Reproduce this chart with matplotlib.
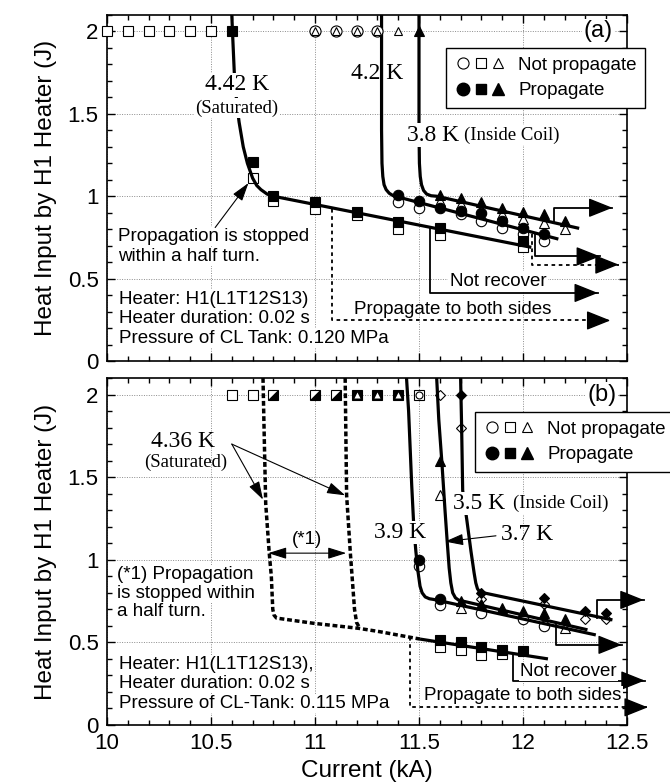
import matplotlib.pyplot as plt
from matplotlib.legend_handler import HandlerTuple
from matplotlib.lines import Line2D
from matplotlib.ticker import MultipleLocator

plt.rcParams['font.family'] = ['Liberation Sans', 'DejaVu Sans']
SERIF = 'Liberation Serif'

# ---------------- (a) CL tank 0.120 MPa ----------------
# markers on the J = 2 row
a_top_y = 2.0
a_top_open_sq_x = [10.0, 10.1, 10.2, 10.3, 10.4, 10.5]
a_top_fill_sq_x = [10.6]
a_top_open_ci_x = [11.0, 11.1, 11.2, 11.3]
a_top_open_tr_x = [11.0, 11.1, 11.2, 11.3, 11.4]
a_top_fill_tr_x = [11.5]

# 4.42 K (squares)
a_sq_x = [10.7, 10.8, 11.0, 11.2, 11.4, 11.6, 12.0]
a_sq_fill_y = [1.21, 1.00, 0.965, 0.905, 0.845, 0.805, 0.73]
a_sq_open_y = [1.11, 0.97, 0.925, 0.885, 0.80, 0.765, 0.69]

# 4.2 K (circles)
a_ci_fill_x = [11.4, 11.5, 11.6, 11.7, 11.8, 11.9, 12.0, 12.1]
a_ci_fill_y = [1.01, 0.97, 0.93, 0.91, 0.90, 0.85, 0.81, 0.77]
a_ci_open_x = [11.4, 11.5, 11.7, 11.8, 11.9, 12.0, 12.1]
a_ci_open_y = [0.965, 0.93, 0.89, 0.85, 0.81, 0.77, 0.73]

# 3.8 K (triangles)
a_tr_x = [11.6, 11.7, 11.8, 11.9, 12.0, 12.1, 12.2]
a_tr_fill_y = [1.01, 0.99, 0.965, 0.93, 0.905, 0.89, 0.85]
a_tr_open_y = [0.97, 0.95, 0.925, 0.89, 0.86, 0.84, 0.80]

# boundary curves
a_442_x = [10.600, 10.605, 10.612, 10.625, 10.635, 10.655, 10.675, 10.70, 10.72, 10.74, 10.77, 10.80, 12.04]
a_442_y = [2.10, 1.95, 1.75, 1.55, 1.45, 1.30, 1.20, 1.11, 1.065, 1.04, 1.013, 1.00, 0.69]
a_42_x = [11.32, 11.32, 11.322, 11.326, 11.332, 11.342, 11.357, 11.375, 11.40, 12.17]
a_42_y = [2.10, 1.40, 1.20, 1.12, 1.07, 1.04, 1.018, 1.004, 0.995, 0.74]
a_38_x = [11.50, 11.50, 11.502, 11.506, 11.512, 11.522, 11.537, 11.558, 11.585, 12.27]
a_38_y = [2.10, 1.40, 1.20, 1.12, 1.07, 1.035, 1.013, 1.003, 1.00, 0.805]

# ---------------- (b) CL tank 0.115 MPa ----------------
b_top_y = 2.0
b_top_open_sq_x = [10.6, 10.7]
b_top_half_sq_x = [10.8, 11.0, 11.1]
b_top_sq_tr_x = [11.2, 11.3, 11.4]
b_top_sq_ci_x = [11.5]
b_top_open_di_x = [11.6]
b_top_fill_di_x = [11.7]

# 4.36 K (squares)
b_sq_fill_x = [11.6, 11.7, 11.8, 11.9, 12.0]
b_sq_fill_y = [0.515, 0.50, 0.475, 0.455, 0.45]
b_sq_open_x = [11.6, 11.7, 11.8, 11.9]
b_sq_open_y = [0.475, 0.455, 0.425, 0.43]

# 3.9 K (circles)
b_ci_fill_x = [11.5, 11.6]
b_ci_fill_y = [1.0, 0.765]
b_ci_open_x = [11.5, 11.6, 11.8, 12.0, 12.1]
b_ci_open_y = [0.96, 0.725, 0.68, 0.64, 0.60]

# 3.7 K (triangles)
b_tr_fill_x = [11.6, 11.7, 11.8, 11.9, 12.0, 12.1, 12.2]
b_tr_fill_y = [1.595, 0.75, 0.73, 0.71, 0.69, 0.675, 0.64]
b_tr_open_x = [11.6, 11.7, 12.2]
b_tr_open_y = [1.39, 0.71, 0.59]

# 3.5 K (diamonds)
b_di_fill_x = [11.8, 12.1, 12.3, 12.4]
b_di_fill_y = [0.80, 0.77, 0.69, 0.68]
b_di_open_x = [11.7, 11.8, 12.1, 12.3, 12.4]
b_di_open_y = [1.80, 0.76, 0.73, 0.64, 0.64]

# boundary curves
b_436a_x = [10.75, 10.755, 10.763, 10.78, 10.79, 10.797, 10.803, 10.815, 10.99, 11.21, 11.31, 11.505]
b_436a_y = [2.10, 1.80, 1.34, 1.04, 0.90, 0.70, 0.665, 0.647, 0.616, 0.585, 0.565, 0.52]
b_436b_x = [11.145, 11.152, 11.17, 11.19, 11.20, 11.215]
b_436b_y = [2.10, 1.39, 1.04, 0.70, 0.62, 0.587]
b_436_x = [11.505, 12.12]
b_436_y = [0.52, 0.40]
b_39_x = [11.44, 11.45, 11.465, 11.475, 11.485, 11.495, 11.505, 11.515, 11.53, 11.55, 11.57, 12.35]
b_39_y = [2.10, 1.90, 1.45, 1.20, 1.05, 0.93, 0.84, 0.80, 0.775, 0.764, 0.76, 0.545]
b_37_x = [11.585, 11.595, 11.61, 11.625, 11.635, 11.645, 11.653, 11.662, 11.675, 11.69, 11.71, 12.31]
b_37_y = [2.10, 1.85, 1.59, 1.30, 1.12, 0.95, 0.86, 0.80, 0.77, 0.756, 0.75, 0.576]
b_35_x = [11.70, 11.705, 11.71, 11.73, 11.75, 11.765, 11.773, 11.781, 11.79, 11.81, 12.43]
b_35_y = [2.10, 1.80, 1.42, 1.24, 1.05, 0.92, 0.86, 0.825, 0.808, 0.80, 0.636]

x_ticks = [10, 10.5, 11, 11.5, 12, 12.5]
x_labels = ['10', '10.5', '11', '11.5', '12', '12.5']
y_ticks = [0, 0.5, 1, 1.5, 2]
y_labels = ['0', '0.5', '1', '1.5', '2']

HALF_SQ = [(-1, -1), (1, -1), (1, 1), (-1, -1)]
WHITE = dict(facecolor='white', edgecolor='none', pad=1)
DOTTED = (0, (2, 2))


def style_axes(ax, show_xlabels):
    ax.set_xlim(10, 12.5)
    ax.set_ylim(0, 2.1)
    ax.set_xticks(x_ticks, x_labels if show_xlabels else [])
    ax.set_yticks(y_ticks, y_labels)
    ax.xaxis.set_minor_locator(MultipleLocator(0.1))
    ax.yaxis.set_minor_locator(MultipleLocator(0.1))
    ax.tick_params(which='both', direction='in', top=True, right=True,
                   labelsize=16, width=1)
    ax.tick_params(which='major', length=6, pad=6)
    ax.tick_params(which='minor', length=3.5)
    ax.grid(True, which='major', color='0.55', ls=(0, (1, 1.5)), lw=0.7)
    ax.set_axisbelow(True)
    for s in ax.spines.values():
        s.set_linewidth(1.2)
    ax.set_ylabel('Heat Input by H1 Heater (J)', fontsize=17.5, labelpad=8)


def pts(ax, x, y, marker, filled, ms=7, z=4, **kw):
    ax.plot(x, y, ls='none', marker=marker, ms=ms,
            mfc='k' if filled else 'white', mec='k', mew=0.8,
            clip_on=False, zorder=z, **kw)


def curve(ax, x, y, ls='-', lw=2.3):
    ax.plot(x, y, color='k', lw=lw, ls=ls, zorder=3, solid_capstyle='butt')


def box_arrow(ax, xs, ys, ls='-'):
    ax.plot(xs, ys, color='k', lw=1.3, ls=ls, clip_on=False, zorder=3)
    ax.annotate('', xy=(xs[-1], ys[-1]), xytext=(xs[-1] - 0.02, ys[-1]),
                arrowprops=dict(arrowstyle='-|>,head_length=0.75,head_width=0.3',
                                color='k', lw=1.0, shrinkA=0, shrinkB=0,
                                mutation_scale=20),
                annotation_clip=False, zorder=3)


def thin_arrow(ax, start, end, style='-|>'):
    ax.annotate('', xy=end, xytext=start,
                arrowprops=dict(arrowstyle=style + ',head_length=0.8,head_width=0.25',
                                color='k', lw=0.8, shrinkA=0, shrinkB=0,
                                mutation_scale=14),
                annotation_clip=False, zorder=5)


def note(ax, x, ys, lines):
    """Left-aligned block of text, one line per entry, each on a white patch."""
    for y, line in zip(ys, lines):
        ax.text(x, y, line, fontsize=13.5, ha='left', va='center',
                bbox=WHITE, zorder=5)


def temp_label(ax, x, y, main, sub, ha='center', sub_dx=None, sub_dy=0.0,
               box=True):
    kw = dict(bbox=WHITE) if box else {}
    ax.text(x, y, main, family=SERIF, fontsize=17, ha=ha, va='center',
            zorder=5 if box else 2, **kw)
    if sub:
        sx = x if sub_dx is None else x + sub_dx
        ax.text(sx, y + sub_dy, sub, family=SERIF, fontsize=13.5, ha=ha,
                va='center', zorder=5, **kw)


def legend(ax, anchor):
    oc = Line2D([], [], ls='none', marker='o', ms=8, mfc='white', mec='k', mew=0.8)
    os_ = Line2D([], [], ls='none', marker='s', ms=7, mfc='white', mec='k', mew=0.8)
    ot = Line2D([], [], ls='none', marker='^', ms=6.5, mfc='white', mec='k', mew=0.8)
    fc = Line2D([], [], ls='none', marker='o', ms=9, mfc='k', mec='k')
    fs = Line2D([], [], ls='none', marker='s', ms=7.5, mfc='k', mec='k')
    ft = Line2D([], [], ls='none', marker='^', ms=8, mfc='k', mec='k')
    leg = ax.legend([(oc, os_, ot), (fc, fs, ft)], ['Not propagate', 'Propagate'],
                    handler_map={tuple: HandlerTuple(ndivide=None, pad=0)},
                    loc='upper left', bbox_to_anchor=anchor,
                    bbox_transform=ax.figure.transFigure, borderaxespad=0,
                    fontsize=13.5, handlelength=2.8, handletextpad=0.6,
                    borderpad=0.45, labelspacing=0.45, fancybox=False,
                    framealpha=1, edgecolor='k')
    leg.get_frame().set_linewidth(1.0)
    leg.set_zorder(6)


fig = plt.figure(figsize=(6.7, 7.82), dpi=100)
ax_a = fig.add_axes([107 / 670, 1 - 361 / 782, 520 / 670, 346 / 782])
ax_b = fig.add_axes([107 / 670, 1 - 725 / 782, 520 / 670, 347 / 782])

# ---------------- panel (a) ----------------
ax = ax_a
style_axes(ax, False)
curve(ax, a_442_x, a_442_y)
curve(ax, a_42_x, a_42_y)
curve(ax, a_38_x, a_38_y)

pts(ax, a_top_open_sq_x, [a_top_y] * len(a_top_open_sq_x), 's', False, ms=6.5)
pts(ax, a_top_fill_sq_x, [a_top_y] * len(a_top_fill_sq_x), 's', True, ms=6.5)
pts(ax, a_top_open_ci_x, [a_top_y] * len(a_top_open_ci_x), 'o', False, ms=8)
pts(ax, a_top_open_tr_x, [a_top_y] * len(a_top_open_tr_x), '^', False, ms=5.5)
pts(ax, a_top_fill_tr_x, [a_top_y] * len(a_top_fill_tr_x), '^', True, ms=7)

pts(ax, a_sq_x, a_sq_open_y, 's', False, ms=6.5, z=2.5)
pts(ax, a_sq_x, a_sq_fill_y, 's', True, ms=6.5)
pts(ax, a_ci_open_x, a_ci_open_y, 'o', False, ms=7.5, z=2.5)
pts(ax, a_ci_fill_x, a_ci_fill_y, 'o', True, ms=7.5)
pts(ax, a_tr_x, a_tr_open_y, '^', False, ms=7, z=2.5)
pts(ax, a_tr_x, a_tr_fill_y, '^', True, ms=7)

temp_label(ax, 10.623, 1.677, '4.42 K', '(Saturated)', sub_dy=-0.142)
temp_label(ax, 11.30, 1.745, '4.2 K', None, box=False)
temp_label(ax, 11.44, 1.37, '3.8 K', '(Inside Coil)', ha='left', sub_dx=0.275)

note(ax, 10.053, [0.755, 0.634], ['Propagation is stopped', 'within a half turn.'])
thin_arrow(ax, (10.52, 0.81), (10.68, 1.08))
note(ax, 10.06, [0.372, 0.257, 0.138],
     ['Heater: H1(L1T12S13)', 'Heater duration: 0.02 s',
      'Pressure of CL Tank: 0.120 MPa'])

box_arrow(ax, [12.15, 12.15, 12.43], [0.84, 0.93, 0.93])
box_arrow(ax, [12.06, 12.06, 12.37], [0.777, 0.635, 0.635])
box_arrow(ax, [12.045, 12.045, 12.46], [0.77, 0.585, 0.585], ls=DOTTED)
box_arrow(ax, [11.553, 11.553, 12.36], [0.81, 0.413, 0.413])
box_arrow(ax, [11.08, 11.08, 12.42], [0.925, 0.246, 0.246], ls=DOTTED)
ax.text(11.88, 0.484, 'Not recover', fontsize=13.5, ha='center', va='center',
        bbox=WHITE, zorder=5)
ax.text(11.66, 0.31, 'Propagate to both sides', fontsize=13.5, ha='center',
        va='center', zorder=5)

ax.text(12.36, 2.0, '(a)', fontsize=17, ha='center', va='center',
        bbox=WHITE, zorder=5)
legend(ax, (446 / 670, 1 - 48 / 782))

# ---------------- panel (b) ----------------
ax = ax_b
style_axes(ax, True)
ax.set_xlabel('Current (kA)', fontsize=17.5, labelpad=4)

curve(ax, b_436a_x, b_436a_y, ls=(0, (1.4, 0.8)), lw=2.5)
curve(ax, b_436b_x, b_436b_y, ls=(0, (1.4, 0.8)), lw=2.5)
curve(ax, b_436_x, b_436_y)
curve(ax, b_39_x, b_39_y)
curve(ax, b_37_x, b_37_y)
curve(ax, b_35_x, b_35_y)

pts(ax, b_top_open_sq_x, [b_top_y] * len(b_top_open_sq_x), 's', False, ms=6.5)
pts(ax, b_top_half_sq_x, [b_top_y] * len(b_top_half_sq_x), 's', False, ms=6.5)
pts(ax, b_top_half_sq_x, [b_top_y] * len(b_top_half_sq_x), HALF_SQ, True, ms=6.5, z=4.1)
pts(ax, b_top_sq_tr_x, [b_top_y] * len(b_top_sq_tr_x), 's', True, ms=6.5)
ax.plot(b_top_sq_tr_x, [b_top_y] * len(b_top_sq_tr_x), ls='none', marker='^',
        ms=4, mfc='white', mec='none', zorder=4.2, clip_on=False)
pts(ax, b_top_sq_ci_x, [b_top_y] * len(b_top_sq_ci_x), 's', False, ms=6.5)
pts(ax, b_top_sq_ci_x, [b_top_y] * len(b_top_sq_ci_x), 'o', False, ms=5, z=4.1)
pts(ax, b_top_open_di_x, [b_top_y] * len(b_top_open_di_x), 'D', False, ms=5, z=2.5)
pts(ax, b_top_fill_di_x, [b_top_y] * len(b_top_fill_di_x), 'D', True, ms=5)

pts(ax, b_sq_open_x, b_sq_open_y, 's', False, ms=6.5, z=2.5)
pts(ax, b_sq_fill_x, b_sq_fill_y, 's', True, ms=6.5)
pts(ax, b_ci_open_x, b_ci_open_y, 'o', False, ms=7.5, z=2.5)
pts(ax, b_ci_fill_x, b_ci_fill_y, 'o', True, ms=7.5)
pts(ax, b_tr_open_x, b_tr_open_y, '^', False, ms=6.5, z=2.5)
pts(ax, b_tr_fill_x, b_tr_fill_y, '^', True, ms=7)
pts(ax, b_di_open_x, b_di_open_y, 'D', False, ms=5, z=2.5)
pts(ax, b_di_fill_x, b_di_fill_y, 'D', True, ms=5)

temp_label(ax, 10.367, 1.717, '4.36 K', '(Saturated)', sub_dx=0.013,
           sub_dy=-0.127, box=False)
thin_arrow(ax, (10.60, 1.70), (10.75, 1.364))
thin_arrow(ax, (10.60, 1.70), (11.145, 1.39))
thin_arrow(ax, (10.775, 1.04), (11.15, 1.04), style='<|-|>')
ax.text(10.96, 1.12, '(*1)', fontsize=13.5, ha='center', va='center', zorder=5)

temp_label(ax, 11.41, 1.165, '3.9 K', None)
temp_label(ax, 12.02, 1.15, '3.7 K', None, box=False)
thin_arrow(ax, (11.87, 1.145), (11.625, 1.11))
temp_label(ax, 11.665, 1.34, '3.5 K', '(Inside Coil)', ha='left', sub_dx=0.285)

note(ax, 10.047, [0.909, 0.798, 0.687],
     ['(*1) Propagation', 'is stopped within', 'a half turn.'])
note(ax, 10.06, [0.364, 0.253, 0.131],
     ['Heater: H1(L1T12S13),', 'Heater duration: 0.02 s',
      'Pressure of CL-Tank: 0.115 MPa'])

box_arrow(ax, [12.354, 12.354, 12.58], [0.645, 0.757, 0.757])
box_arrow(ax, [12.16, 12.16, 12.475], [0.61, 0.485, 0.485])
box_arrow(ax, [11.953, 11.953, 12.585], [0.43, 0.269, 0.269])
box_arrow(ax, [11.457, 11.457, 12.60], [0.53, 0.107, 0.107], ls=DOTTED)
ax.text(12.22, 0.323, 'Not recover', fontsize=13.5, ha='center', va='center',
        bbox=WHITE, zorder=5)
ax.text(12.0, 0.176, 'Propagate to both sides', fontsize=13.5, ha='center',
        va='center', bbox=WHITE, zorder=5)

ax.text(12.38, 2.0, '(b)', fontsize=17, ha='center', va='center',
        bbox=WHITE, zorder=5)
legend(ax, (475 / 670, 1 - 412 / 782))

fig.savefig('out.png', dpi=100)
